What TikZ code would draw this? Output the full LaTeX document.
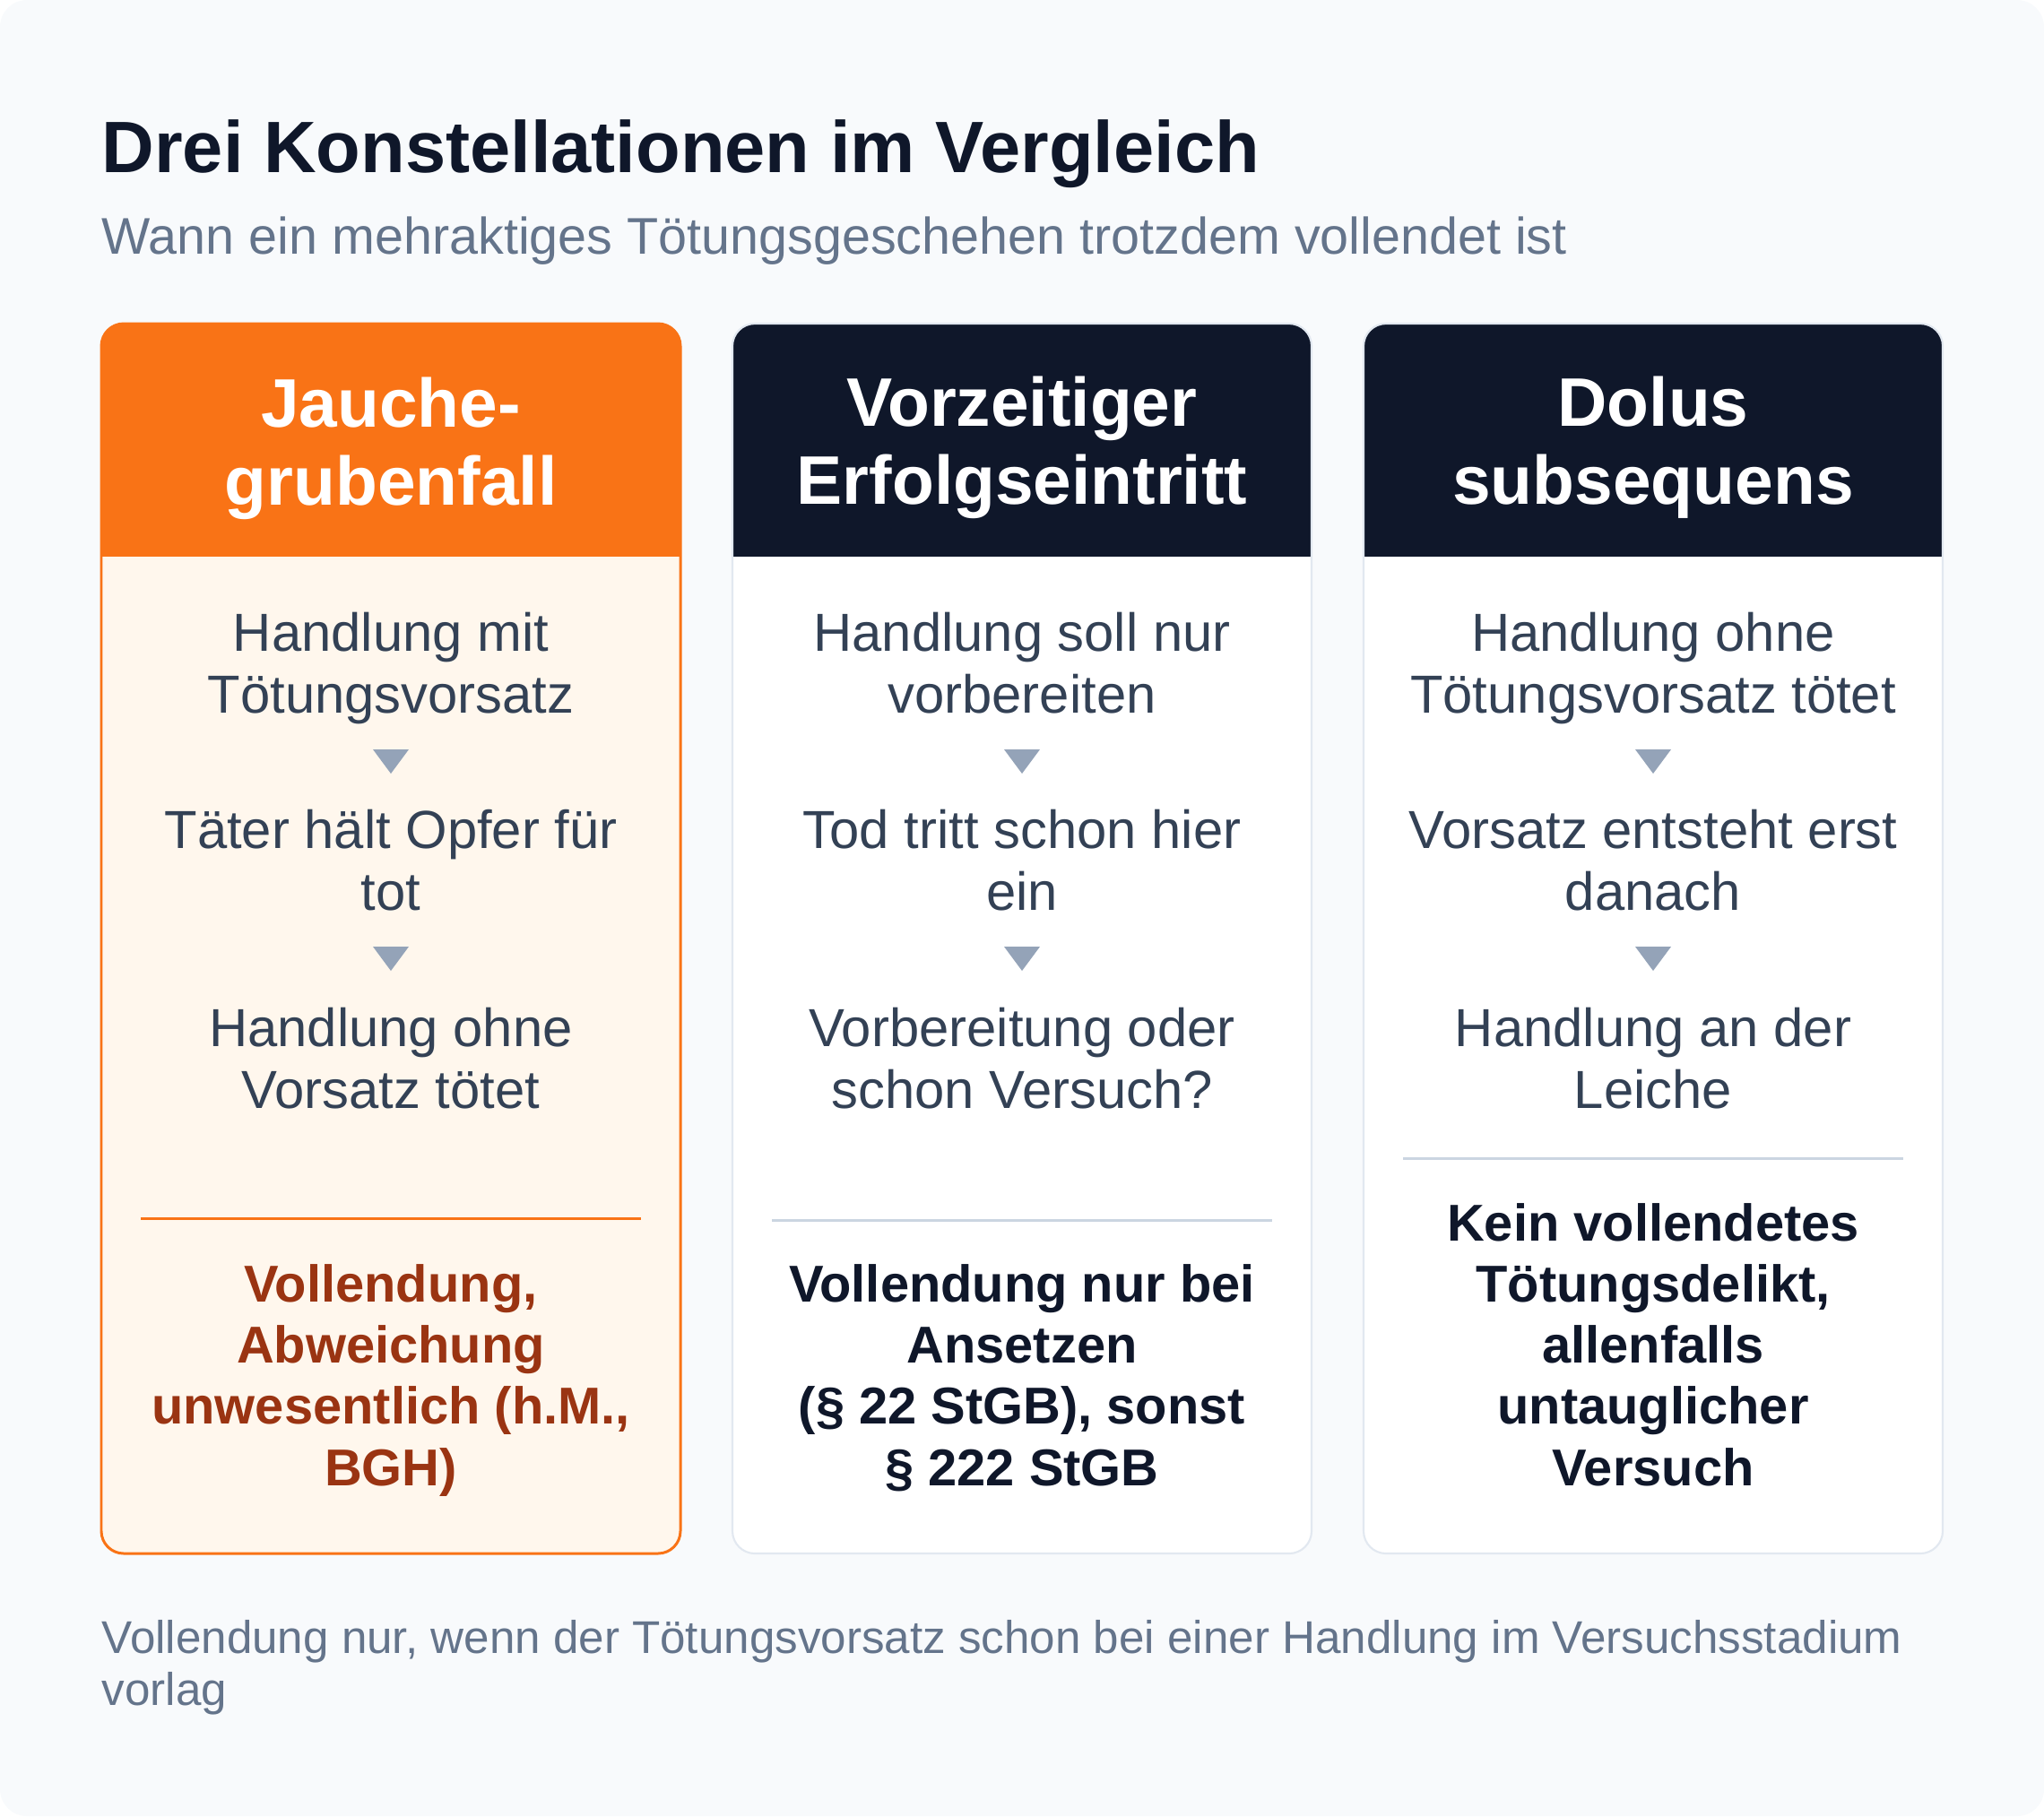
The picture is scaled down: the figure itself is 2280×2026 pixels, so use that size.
\documentclass[tikz,border=0pt]{standalone}
\usepackage{fontspec}
\setmainfont{Liberation Sans}
\usetikzlibrary{positioning}

\definecolor{bgpage}{HTML}{F8FAFC}
\definecolor{ink}{HTML}{0F172A}
\definecolor{slate}{HTML}{64748B}
\definecolor{bodytxt}{HTML}{334155}
\definecolor{arrowgray}{HTML}{94A3B8}
\definecolor{signal}{HTML}{F97316}
\definecolor{signalbg}{HTML}{FFF7ED}
\definecolor{rust}{HTML}{9A3412}
\definecolor{cardline}{HTML}{E2E8F0}
\definecolor{rulegray}{HTML}{CBD5E1}

\tikzset{
  titletext/.style={anchor=base west,inner sep=0pt,text=ink,
    font=\bfseries\fontsize{23.1}{28}\selectfont},
  subtext/.style={anchor=base west,inner sep=0pt,text=slate,
    font=\fontsize{16.35}{19}\selectfont},
  headtext/.style={anchor=base,align=center,inner sep=0pt,text=white,
    font=\bfseries\fontsize{21.8}{24.5}\selectfont},
  steptext/.style={anchor=base,align=center,inner sep=0pt,text=bodytxt,
    font=\fontsize{17}{19.35}\selectfont},
  verdict/.style={anchor=base,align=center,inner sep=0pt,text=ink,
    font=\bfseries\fontsize{16.45}{19.35}\selectfont},
  foottext/.style={anchor=base west,align=left,inner sep=0pt,text=slate,
    font=\fontsize{14.55}{16.5}\selectfont},
}

\begin{document}
\begin{tikzpicture}[x=0.01cm,y=-0.01cm]

\useasboundingbox (0,0) rectangle (2280,2026);
\fill[bgpage,rounded corners=.3cm] (0,0) rectangle (2280,2026);

% Title and subtitle
\node[titletext] (title) at (113,192) {Drei Konstellationen im Vergleich};
\node[subtext] (subtitle) at (113,283)
  {Wann ein mehraktiges Tötungsgeschehen trotzdem vollendet ist};

% The three cards: body, header strip, border
\foreach \xl/\bodyc/\headc/\edgec/\lw in
  {113/signalbg/signal/signal/.85pt,817/white/ink/cardline/.6pt,
   1521/white/ink/cardline/.6pt}{
  \fill[\bodyc,rounded corners=.25cm] (\xl,361) rectangle ++(646,1372);
  \begin{scope}
    \clip[rounded corners=.25cm] (\xl,361) rectangle ++(646,1372);
    \fill[\headc] (\xl,361) rectangle ++(646,260);
  \end{scope}
  \draw[\edgec,line width=\lw,rounded corners=.25cm]
    (\xl,361) rectangle ++(646,1372);
}

% Centres of the cards
\coordinate (jauche) at (436,0);
\coordinate (vorzeit) at (1140,0);
\coordinate (dolus) at (1844,0);

% Card 1: Jauchegrubenfall (nodes sit on their last baseline)
\node[headtext] (jhead) at (436,563) {Jauche-\\grubenfall};
\node[steptext] (jstepA) at (436,795) {Handlung mit\\Tötungsvorsatz};
\node[steptext] (jstepB) at (436,1015) {Täter hält Opfer für\\tot};
\node[steptext] (jstepC) at (436,1236) {Handlung ohne\\Vorsatz tötet};
\draw[signal,line width=.85pt] (157,1359) -- (715,1359);
\node[verdict,text=rust] (jverdict) at (436,1657)
  {Vollendung,\\Abweichung\\unwesentlich (h.M.,\\BGH)};

% Card 2: vorzeitiger Erfolgseintritt
\node[headtext] (vhead) at (1140,562) {Vorzeitiger\\Erfolgseintritt};
\node[steptext] (vstepA) at (1140,795) {Handlung soll nur\\vorbereiten};
\node[steptext] (vstepB) at (1140,1015) {Tod tritt schon hier\\ein};
\node[steptext] (vstepC) at (1140,1236) {Vorbereitung oder\\schon Versuch?};
\draw[rulegray,line width=.85pt] (861,1361) -- (1419,1361);
\node[verdict] (vverdict) at (1140,1657)
  {Vollendung nur bei\\Ansetzen\\(§ 22 StGB), sonst\\§ 222 StGB};

% Card 3: dolus subsequens
\node[headtext] (dhead) at (1844,562) {Dolus\\subsequens};
\node[steptext] (dstepA) at (1844,795) {Handlung ohne\\Tötungsvorsatz tötet};
\node[steptext] (dstepB) at (1844,1015) {Vorsatz entsteht erst\\danach};
\node[steptext] (dstepC) at (1844,1236) {Handlung an der\\Leiche};
\draw[rulegray,line width=.85pt] (1565,1292) -- (2123,1292);
\node[verdict] (dverdict) at (1844,1657)
  {Kein vollendetes\\Tötungsdelikt,\\allenfalls\\untauglicher\\Versuch};

% Down markers between the steps
\foreach \cx in {436,1140,1844}
  \foreach \ty in {836,1056}
    \fill[arrowgray] (\cx-20,\ty) -- (\cx+20,\ty) -- (\cx,\ty+27) -- cycle;

% Footnote
\node[foottext] (foot) at (113,1902)
  {Vollendung nur, wenn der Tötungsvorsatz schon bei einer Handlung im Versuchsstadium\\vorlag};

\end{tikzpicture}
\end{document}
